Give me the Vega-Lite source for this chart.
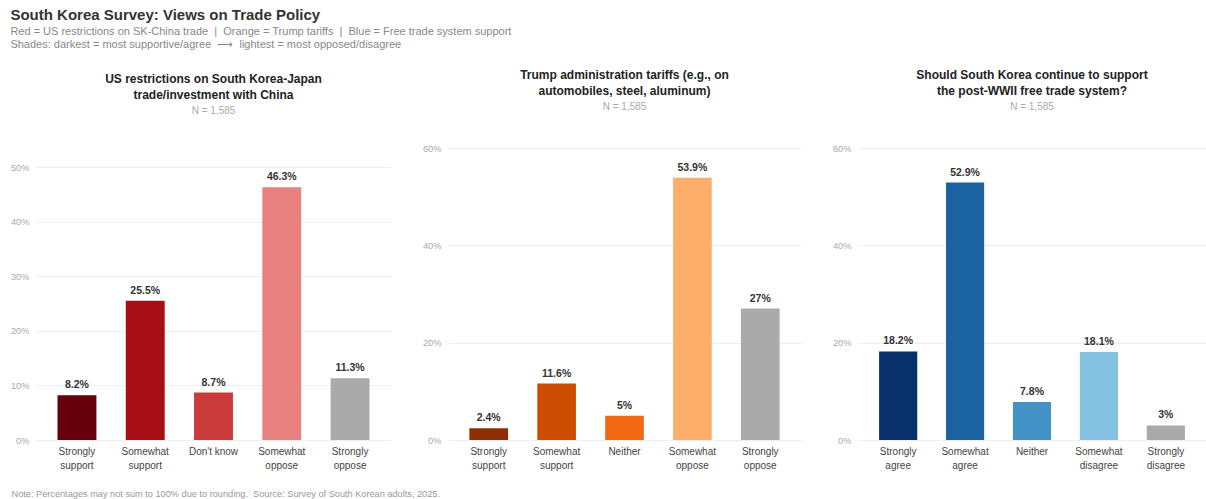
{
  "$schema": "https://vega.github.io/schema/vega-lite/v6.json",
  "padding": {"left": 10, "top": 8, "right": 0, "bottom": 4},
  "background": "white",
  "title": {
    "text": "South Korea Survey: Views on Trade Policy",
    "subtitle": ["Red = US restrictions on SK-China trade \u00a0|\u00a0 Orange = Trump tariffs \u00a0|\u00a0 Blue = Free trade system support", "Shades: darkest = most supportive/agree \u00a0\u27f6\u00a0 lightest = most opposed/disagree"],
    "anchor": "start",
    "font": "Liberation Sans",
    "fontSize": 15,
    "fontWeight": "bold",
    "color": "#333333",
    "subtitleFont": "Liberation Sans",
    "subtitleFontSize": 11,
    "subtitleColor": "#888888",
    "subtitleLineHeight": 13,
    "subtitlePadding": 3,
    "offset": 19
  },
  "datasets": {
    "us": [
      {"response": "Strongly support", "share": 0.082},
      {"response": "Somewhat support", "share": 0.255},
      {"response": "Don't know", "share": 0.087},
      {"response": "Somewhat oppose", "share": 0.463},
      {"response": "Strongly oppose", "share": 0.113}
    ],
    "trump": [
      {"response": "Strongly support", "share": 0.024},
      {"response": "Somewhat support", "share": 0.116},
      {"response": "Neither", "share": 0.05},
      {"response": "Somewhat oppose", "share": 0.539},
      {"response": "Strongly oppose", "share": 0.27}
    ],
    "free": [
      {"response": "Strongly agree", "share": 0.182},
      {"response": "Somewhat agree", "share": 0.529},
      {"response": "Neither", "share": 0.078},
      {"response": "Somewhat disagree", "share": 0.181},
      {"response": "Strongly disagree", "share": 0.03}
    ]
  },
  "config": {
    "font": "Liberation Sans",
    "view": {"stroke": null},
    "axis": {
      "labelFont": "Liberation Sans",
      "titleFont": "Liberation Sans"
    },
    "axisY": {
      "grid": true,
      "gridColor": "#ebebeb",
      "gridWidth": 0.8,
      "domain": false,
      "ticks": false,
      "labelPadding": 7,
      "labelFontSize": 9.3,
      "labelColor": "#aaaaaa",
      "title": null,
      "format": ".0%"
    },
    "axisX": {
      "grid": false,
      "domain": false,
      "ticks": false,
      "labelAngle": 0,
      "labelPadding": 6,
      "labelFontSize": 10,
      "labelColor": "#444444",
      "labelLineHeight": 14,
      "labelBaseline": "top",
      "labelExpr": "datum.label == \"Don't know\" || datum.label == 'Neither' ? datum.label : split(datum.label, ' ')"
    },
    "title": {
      "font": "Liberation Sans",
      "fontSize": 12,
      "fontWeight": "bold",
      "color": "#222222",
      "lineHeight": 16,
      "subtitleFont": "Liberation Sans",
      "subtitleFontSize": 10,
      "subtitleColor": "#aaaaaa",
      "subtitlePadding": 4,
      "offset": 31,
      "anchor": "middle"
    },
    "text": {"font": "Liberation Sans"}
  },
  "hconcat": [
    {
      "width": 355,
      "height": 292,
      "data": {"name": "us"},
      "title": {"text": ["US restrictions on South Korea-Japan", "trade/investment with China"], "subtitle": "N = 1,585"},
      "encoding": {
        "x": {
          "field": "response", "type": "nominal", "sort": null,
          "scale": {"paddingInner": 0.43, "paddingOuter": 0.315},
          "axis": {
            "title": "Note: Percentages may not sum to 100% due to rounding. \u00a0Source: Survey of South Korean adults, 2025.",
            "titleAnchor": "start",
            "titleAlign": "left",
            "titleX": -25,
            "titleY": 56,
            "titleBaseline": "alphabetic",
            "titleFontSize": 9.2,
            "titleFontWeight": "normal",
            "titleColor": "#999999"
          }
        },
        "y": {
          "field": "share", "type": "quantitative",
          "scale": {"domain": [0, 0.535], "nice": false},
          "axis": {"values": [0, 0.1, 0.2, 0.3, 0.4, 0.5]}
        }
      },
      "layer": [
        {
          "mark": {"type": "bar"},
          "encoding": {
            "color": {
              "field": "response", "type": "nominal", "legend": null,
              "scale": {"domain": ["Strongly support", "Somewhat support", "Don't know", "Somewhat oppose", "Strongly oppose"], "range": ["#67000d", "#a50f15", "#cb3a3a", "#e88080", "#aaaaaa"]}
            }
          }
        },
        {
          "mark": {"type": "text", "dy": -5, "baseline": "bottom", "fontSize": 10.5, "fontWeight": "bold", "color": "#333333"},
          "encoding": {"text": {"field": "share", "type": "quantitative", "format": ".1~%"}}
        }
      ]
    },
    {
      "width": 353,
      "height": 292,
      "data": {"name": "trump"},
      "title": {"text": ["Trump administration tariffs (e.g., on", "automobiles, steel, aluminum)"], "subtitle": "N = 1,585"},
      "encoding": {
        "x": {
          "field": "response", "type": "nominal", "sort": null,
          "scale": {"paddingInner": 0.43, "paddingOuter": 0.315},
          "axis": {"title": null}
        },
        "y": {
          "field": "share", "type": "quantitative",
          "scale": {"domain": [0, 0.6], "nice": false},
          "axis": {"values": [0, 0.2, 0.4, 0.6]}
        }
      },
      "layer": [
        {
          "mark": {"type": "bar"},
          "encoding": {
            "color": {
              "field": "response", "type": "nominal", "legend": null,
              "scale": {"domain": ["Strongly support", "Somewhat support", "Neither", "Somewhat oppose", "Strongly oppose"], "range": ["#8c2d04", "#cc4c02", "#f16913", "#fdae6b", "#aaaaaa"]}
            }
          }
        },
        {
          "mark": {"type": "text", "dy": -5, "baseline": "bottom", "fontSize": 10.5, "fontWeight": "bold", "color": "#333333"},
          "encoding": {"text": {"field": "share", "type": "quantitative", "format": ".1~%"}}
        }
      ]
    },
    {
      "width": 348,
      "height": 292,
      "data": {"name": "free"},
      "title": {"text": ["Should South Korea continue to support", "the post-WWII free trade system?"], "subtitle": "N = 1,585"},
      "encoding": {
        "x": {
          "field": "response", "type": "nominal", "sort": null,
          "scale": {"paddingInner": 0.43, "paddingOuter": 0.315},
          "axis": {"title": null}
        },
        "y": {
          "field": "share", "type": "quantitative",
          "scale": {"domain": [0, 0.6], "nice": false},
          "axis": {"values": [0, 0.2, 0.4, 0.6]}
        }
      },
      "layer": [
        {
          "mark": {"type": "bar"},
          "encoding": {
            "color": {
              "field": "response", "type": "nominal", "legend": null,
              "scale": {"domain": ["Strongly agree", "Somewhat agree", "Neither", "Somewhat disagree", "Strongly disagree"], "range": ["#08306b", "#1a62a0", "#4292c6", "#84c1e0", "#aaaaaa"]}
            }
          }
        },
        {
          "mark": {"type": "text", "dy": -5, "baseline": "bottom", "fontSize": 10.5, "fontWeight": "bold", "color": "#333333"},
          "encoding": {"text": {"field": "share", "type": "quantitative", "format": ".1~%"}}
        }
      ]
    }
  ],
  "spacing": 57,
  "bounds": "flush",
  "resolve": {"scale": {"color": "independent", "x": "independent", "y": "independent"}}
}
